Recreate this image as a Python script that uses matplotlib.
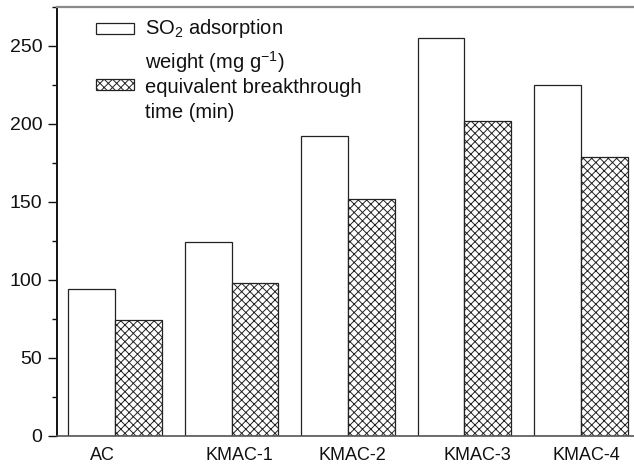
import matplotlib
matplotlib.use("Agg")
import matplotlib.pyplot as plt
from matplotlib.patches import Rectangle
from matplotlib.ticker import MultipleLocator
import numpy as np

plt.rcParams["font.family"] = ["Liberation Sans", "DejaVu Sans"]
plt.rcParams["mathtext.fontset"] = "custom"
plt.rcParams["mathtext.rm"] = "Liberation Sans"
plt.rcParams["mathtext.it"] = "Liberation Sans:italic"
plt.rcParams["mathtext.default"] = "regular"
plt.rcParams["hatch.linewidth"] = 0.7
plt.rcParams["hatch.color"] = "#333333"

# Samples and measured values
samples = ["AC", "KMAC-1", "KMAC-2", "KMAC-3", "KMAC-4"]
so2_adsorption = [94, 124, 192, 255, 225]        # mg g-1
breakthrough_time = [74, 98, 152, 202, 179]      # min
label_shift = [-0.11, 0.07, 0.04, 0.11, 0.05]    # horizontal nudge of category labels

fig = plt.figure(figsize=(6.34, 4.66), dpi=100)
ax = fig.add_axes([57 / 634, 30.3 / 466, 577 / 634, 428.7 / 466])

x = np.arange(len(samples))
w = 0.4
ax.bar(x, so2_adsorption, width=-w, align="edge", facecolor="white",
       edgecolor="#222222", linewidth=0.9)
ax.bar(x, breakthrough_time, width=w, align="edge", facecolor="white",
       edgecolor="#222222", linewidth=0.9, hatch="xxxx")

ax.set_xlim(-0.498, 4.455)
ax.set_ylim(0, 275)

ax.yaxis.set_major_locator(MultipleLocator(50))
ax.yaxis.set_minor_locator(MultipleLocator(25))
ax.tick_params(axis="y", which="major", direction="out", length=6.5, width=1.0,
               pad=4, labelsize=14, colors="#111111")
ax.tick_params(axis="y", which="minor", direction="out", length=3.5, width=1.0,
               colors="#111111")

ax.set_xticks(x + np.array(label_shift))
ax.set_xticklabels(samples)
ax.tick_params(axis="x", which="both", length=0, pad=8, labelsize=13,
               colors="#111111")

ax.spines["right"].set_visible(False)
ax.spines["left"].set_color("#111111")
ax.spines["left"].set_linewidth(1.4)
ax.spines["top"].set_color("#8a8a8a")
ax.spines["top"].set_linewidth(1.6)
ax.spines["bottom"].set_color("#555555")
ax.spines["bottom"].set_linewidth(1.2)

# Legend key boxes and their two-line descriptions
ax.add_patch(Rectangle((0.0676, 0.9363), 0.0659, 0.0257, transform=ax.transAxes,
                       facecolor="white", edgecolor="#222222", linewidth=0.9,
                       clip_on=False))
ax.add_patch(Rectangle((0.0676, 0.8064), 0.0659, 0.0257, transform=ax.transAxes,
                       facecolor="white", edgecolor="#222222", linewidth=0.9,
                       hatch="xxxx", clip_on=False))
tx = 0.1525
for y, s in [(0.9370, "SO$_2$ adsorption"),
             (0.8547, "weight (mg g$^{-1}$)"),
             (0.8001, "equivalent breakthrough"),
             (0.7404, "time (min)")]:
    ax.text(tx, y, s, transform=ax.transAxes, fontsize=14.5, va="baseline",
            ha="left", color="#111111")

fig.savefig("out.png", dpi=100)
